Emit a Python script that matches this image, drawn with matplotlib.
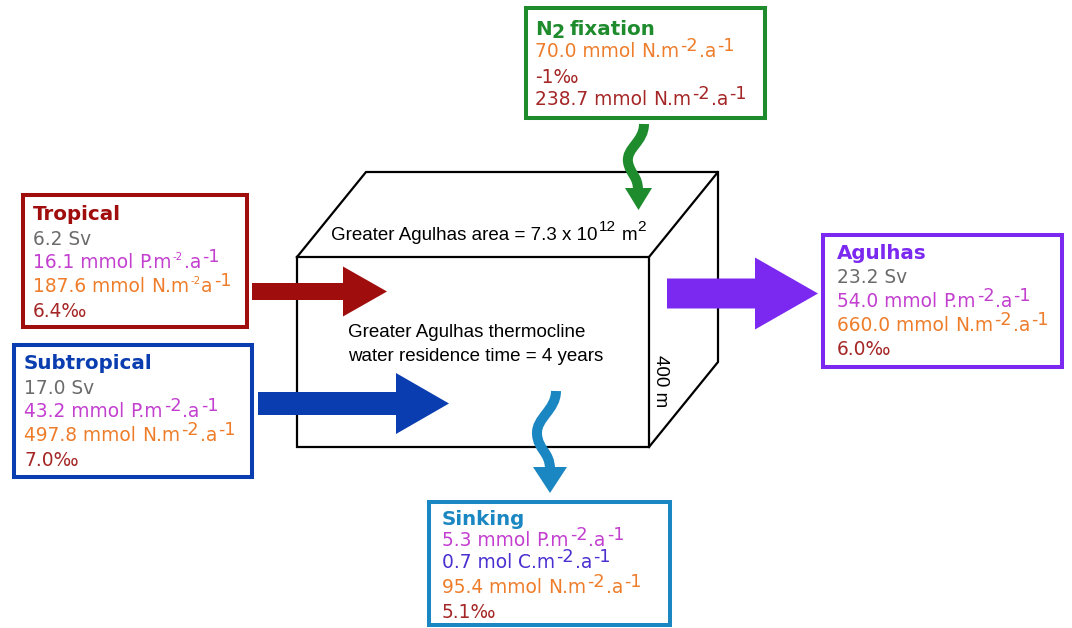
import numpy as np
import matplotlib
matplotlib.use("Agg")
import matplotlib.pyplot as plt
import matplotlib.patches as mpatches
from matplotlib.path import Path

# ── data ───────────────────────────────────────────────────
sources = ["Tropical", "Subtropical", "Agulhas"]
flow_sv = [6.2, 17.0, 23.2]
p_flux = [16.1, 43.2, 54.0]        # mmol P m-2 a-1
n_flux = [187.6, 497.8, 660.0]     # mmol N m-2 a-1
d15n = [6.4, 7.0, 6.0]             # permil

sink_p, sink_c, sink_n, sink_d15n = 5.3, 0.7, 95.4, 5.1
fix_n, fix_d15n, fix_n_total = 70.0, -1, 238.7

area_coef, area_exp = 7.3, 12
residence_years = 4
depth_m = 400

# ── colours ────────────────────────────────────────────────
C_GREEN = "#1e8b2d"
C_TROP = "#a00d0d"
C_SUB = "#0a3eb0"
C_AGU = "#7b29f0"
C_SINK = "#1b87c2"
C_GRAY = "#6b6b6b"
C_P = "#c23fcf"
C_N = "#ee7d2b"
C_D = "#a52626"
C_C = "#4b2fd0"

FS = 13.4
FS_TITLE = 14.3
SP = 6  # word gap before the unit, px

fig = plt.figure(figsize=(10.72, 6.28), dpi=100)
ax = fig.add_axes([0, 0, 1, 1])
ax.set_xlim(0, 1072)
ax.set_ylim(628, 0)
ax.axis("off")
renderer = fig.canvas.get_renderer()


def rich(x, y, parts, color, fs=FS, weight="normal", family="DejaVu Sans"):
    # parts: (text, raise_px, scale) tuples, or a number = extra gap in px
    for p in parts:
        if isinstance(p, (int, float)):
            x += p
            continue
        s, up, sc = p
        t = ax.text(x, y - up, s, fontsize=fs * sc, color=color, fontweight=weight,
                    family=family, va="baseline", ha="left", zorder=4)
        x += t.get_window_extent(renderer).width


def unit(el, dot=True, small2=False):
    sup2 = ("-2", 8, 0.55) if small2 else ("-2", 6, 0.95)
    return [(f"{el}.m", 0, 1), 1, sup2, 1, (".a" if dot else "a", 0, 1), 1, ("-1", 6, 0.95)]


def box(x0, y0, x1, y1, color):
    ax.add_patch(mpatches.Rectangle((x0, y0), x1 - x0, y1 - y0, fill=False,
                                    edgecolor=color, lw=2.9, zorder=3))


# ── cube ───────────────────────────────────────────────────
fx0, fy0, fx1, fy1 = 297, 257, 649, 447
dx, dy = 69, -85
kw = dict(color="black", lw=1.6, zorder=1, solid_joinstyle="miter")
ax.plot([fx0, fx1, fx1, fx0, fx0], [fy0, fy0, fy1, fy1, fy0], **kw)
ax.plot([fx0, fx0 + dx, fx1 + dx, fx1], [fy0, fy0 + dy, fy0 + dy, fy0], **kw)
ax.plot([fx1 + dx, fx1 + dx, fx1], [fy0 + dy, fy1 + dy, fy1], **kw)

rich(331, 240, [(f"Greater Agulhas area = {area_coef} x 10", 0, 1), 1,
                (f"{area_exp}", 9, 0.82), 6, ("m", 0, 1), 0, ("2", 9, 0.82)],
     "black", fs=13.5, family="Liberation Sans")
ax.text(348, 337, "Greater Agulhas thermocline", fontsize=13.5,
        family="Liberation Sans", va="baseline", zorder=2)
ax.text(348, 361, f"water residence time = {residence_years} years", fontsize=13.5,
        family="Liberation Sans", va="baseline", zorder=2)
ax.text(660, 381, f"{depth_m} m", fontsize=13.5, family="Liberation Sans",
        rotation=270, ha="center", va="center", zorder=2)


# ── straight arrows ────────────────────────────────────────
def arrow(x0, x1, yc, shaft, head_w, head_len, color):
    ax.add_patch(mpatches.FancyArrow(x0, yc, x1 - x0, 0, width=shaft,
                                     head_width=head_w, head_length=head_len,
                                     length_includes_head=True, color=color,
                                     lw=0, zorder=5))


arrow(252, 387, 291.5, 17, 50, 44, C_TROP)
arrow(258, 449, 403.5, 23, 61, 53, C_SUB)
arrow(667, 818, 293.5, 30, 72, 63, C_AGU)


# ── wavy arrows ────────────────────────────────────────────
def wavy(pts, head_base, tip, half_w, color):
    codes = [Path.MOVETO] + [Path.CURVE4] * (len(pts) - 1)
    ax.add_patch(mpatches.PathPatch(Path(pts, codes), fill=False, edgecolor=color,
                                    lw=7.2, capstyle="butt", zorder=5))
    ax.add_patch(mpatches.Polygon([(tip[0] - half_w, head_base), (tip[0] + half_w, head_base),
                                   tip], closed=True, color=color, lw=0, zorder=5))


wavy([(644, 124), (644, 142), (626, 148), (628, 162),
      (630, 174), (638, 176), (638, 190)], 188, (638.5, 210), 13.5, C_GREEN)
wavy([(556, 391), (556, 410), (536, 418), (537, 434),
      (538, 450), (550, 452), (550, 469)], 467, (550, 493), 17, C_SINK)

# ── info boxes ─────────────────────────────────────────────
box(526, 8, 765, 118, C_GREEN)
rich(535, 35, [("N", 0, 1), 0, ("2", -3, 0.95), 5, ("fixation", 0, 1)],
     C_GREEN, fs=FS_TITLE, weight="bold")
rich(535, 57, [(f"{fix_n:.1f} mmol", 0, 1), SP] + unit("N"), C_N)
rich(535, 83, [(f"{fix_d15n}‰", 0, 1)], C_D)
rich(535, 105, [(f"{fix_n_total:.1f} mmol", 0, 1), SP] + unit("N"), C_D)

box_specs = [
    ((23, 195, 247, 327), C_TROP, 33, [220, 245, 268, 292, 317]),
    ((14, 345, 252, 477), C_SUB, 24, [369, 394, 417, 441, 466]),
    ((823, 235, 1062, 367), C_AGU, 837, [259, 283, 307, 331, 355]),
]
for i, (rect, col, tx, bl) in enumerate(box_specs):
    box(*rect, col)
    trop = sources[i] == "Tropical"
    rich(tx, bl[0], [(sources[i], 0, 1)], col, fs=FS_TITLE, weight="bold")
    rich(tx, bl[1], [(f"{flow_sv[i]:.1f} Sv", 0, 1)], C_GRAY)
    rich(tx, bl[2], [(f"{p_flux[i]:.1f} mmol", 0, 1), SP] + unit("P", small2=trop), C_P)
    rich(tx, bl[3], [(f"{n_flux[i]:.1f} mmol", 0, 1), SP]
         + unit("N", dot=not trop, small2=trop), C_N)
    rich(tx, bl[4], [(f"{d15n[i]:.1f}‰", 0, 1)], C_D)

box(429, 502, 670, 625, C_SINK)
rich(442, 525, [("Sinking", 0, 1)], C_SINK, fs=FS_TITLE, weight="bold")
rich(442, 546, [(f"{sink_p:.1f} mmol", 0, 1), SP] + unit("P"), C_P)
rich(442, 568, [(f"{sink_c:.1f} mol", 0, 1), SP] + unit("C"), C_C)
rich(442, 593, [(f"{sink_n:.1f} mmol", 0, 1), SP] + unit("N"), C_N)
rich(442, 618, [(f"{sink_d15n:.1f}‰", 0, 1)], C_D)

fig.savefig("out.png", dpi=100)
